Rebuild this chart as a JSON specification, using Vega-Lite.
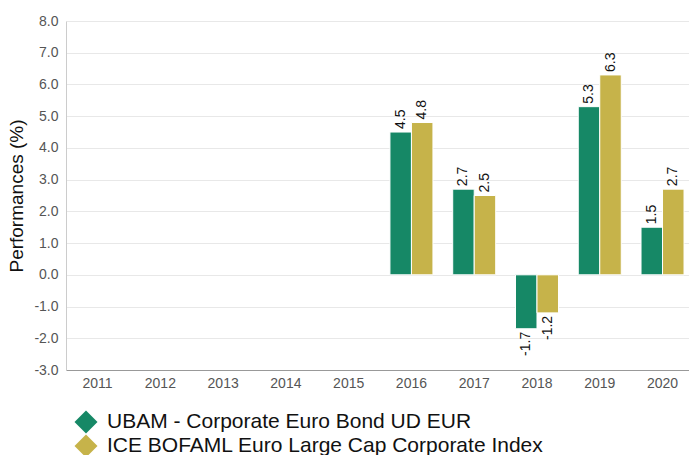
{
  "$schema": "https://vega.github.io/schema/vega-lite/v6.json",
  "width": 623,
  "height": 349,
  "autosize": "none",
  "padding": {"left": 66, "top": 21, "right": 0, "bottom": 85},
  "background": "white",
  "config": {
    "font": "Liberation Sans",
    "view": {"stroke": null},
    "locale": {"number": {"decimal": ".", "thousands": ",", "grouping": [3], "currency": ["$", ""], "minus": "-"}}
  },
  "data": {
    "values": [
      {"year": "2016", "series": "UBAM - Corporate Euro Bond UD EUR", "value": 4.5},
      {"year": "2017", "series": "UBAM - Corporate Euro Bond UD EUR", "value": 2.7},
      {"year": "2018", "series": "UBAM - Corporate Euro Bond UD EUR", "value": -1.7},
      {"year": "2019", "series": "UBAM - Corporate Euro Bond UD EUR", "value": 5.3},
      {"year": "2020", "series": "UBAM - Corporate Euro Bond UD EUR", "value": 1.5},
      {"year": "2016", "series": "ICE BOFAML Euro Large Cap Corporate Index", "value": 4.8},
      {"year": "2017", "series": "ICE BOFAML Euro Large Cap Corporate Index", "value": 2.5},
      {"year": "2018", "series": "ICE BOFAML Euro Large Cap Corporate Index", "value": -1.2},
      {"year": "2019", "series": "ICE BOFAML Euro Large Cap Corporate Index", "value": 6.3},
      {"year": "2020", "series": "ICE BOFAML Euro Large Cap Corporate Index", "value": 2.7}
    ]
  },
  "encoding": {
    "x": {
      "field": "year", "type": "nominal",
      "scale": {"domain": ["2011","2012","2013","2014","2015","2016","2017","2018","2019","2020"], "paddingInner": 0.315, "paddingOuter": 0.12, "align": 0.67},
      "axis": {"title": null, "labelAngle": 0, "labelFontSize": 14, "labelColor": "#555555", "ticks": false, "domainColor": "#999999", "labelPadding": 6, "grid": false}
    },
    "xOffset": {
      "field": "series", "type": "nominal",
      "scale": {"domain": ["UBAM - Corporate Euro Bond UD EUR", "ICE BOFAML Euro Large Cap Corporate Index"]}
    },
    "y": {
      "field": "value", "type": "quantitative",
      "scale": {"domain": [-3, 8], "nice": false, "zero": false},
      "axis": {"title": "Performances (%)", "titleFontSize": 19, "titleFontWeight": "normal", "titleColor": "#111111", "titlePadding": 7, "values": [-3,-2,-1,0,1,2,3,4,5,6,7,8], "format": ".1f", "labelFontSize": 14, "labelColor": "#555555", "ticks": false, "domainColor": "#cccccc", "gridColor": "#e8e8e8", "labelPadding": 8}
    }
  },
  "layer": [
    {
      "mark": {"type": "bar", "stroke": "white", "strokeWidth": 1},
      "encoding": {
        "color": {
          "field": "series", "type": "nominal",
          "scale": {"domain": ["UBAM - Corporate Euro Bond UD EUR", "ICE BOFAML Euro Large Cap Corporate Index"], "range": ["#168866", "#C6B34A"]},
          "legend": {"title": null, "orient": "none", "legendX": 8, "legendY": 389, "symbolType": "diamond", "symbolSize": 530, "symbolStrokeWidth": 0, "labelFontSize": 21, "labelColor": "#111111", "rowPadding": -1, "labelOffset": 9, "labelLimit": 600}
        }
      }
    },
    {
      "transform": [{"filter": "datum.value >= 0"}],
      "mark": {"type": "text", "angle": 270, "align": "left", "baseline": "middle", "dx": 3, "fontSize": 14, "color": "#111111"},
      "encoding": {"text": {"field": "value", "type": "quantitative", "format": ".1f"}}
    },
    {
      "transform": [{"filter": "datum.value < 0"}],
      "mark": {"type": "text", "angle": 270, "align": "right", "baseline": "middle", "dx": -3, "fontSize": 14, "color": "#111111"},
      "encoding": {"text": {"field": "value", "type": "quantitative", "format": ".1f"}}
    }
  ]
}
